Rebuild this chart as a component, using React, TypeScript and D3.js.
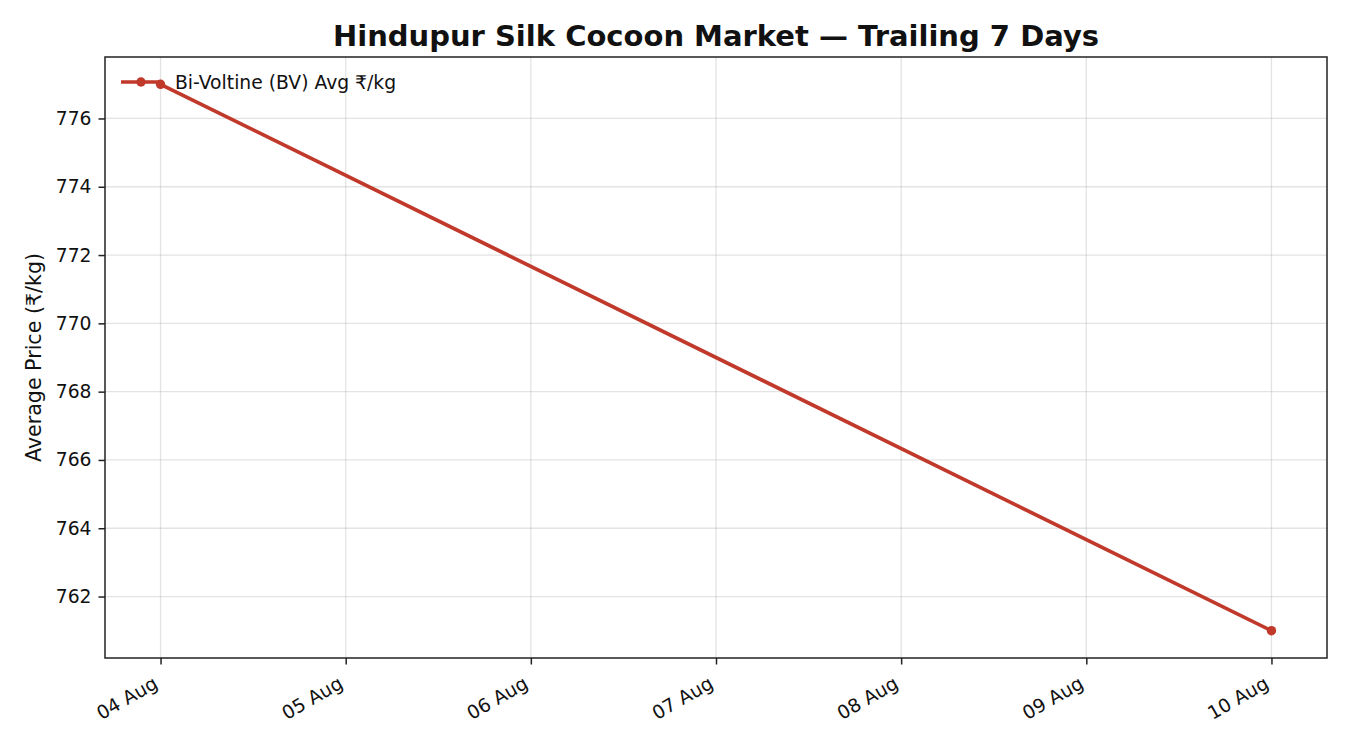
import { useEffect, useRef } from 'react';
import * as d3 from 'd3';

const DATES = ['2024-08-04', '2024-08-10'];
const PRICES = [777, 761];
const Y_TICKS = [762, 764, 766, 768, 770, 772, 774, 776];
const SERIES_NAME = 'Bi-Voltine (BV) Avg ₹/kg';
const TITLE = 'Hindupur Silk Cocoon Market — Trailing 7 Days';
const Y_LABEL = 'Average Price (₹/kg)';

const W = 1350, H = 750;
const M = { left: 105, right: 23, top: 57, bottom: 92 };
const RED = '#c0392b';
const FONT = 'DejaVu Sans, sans-serif';
const TICK_FS = 18.75;

export default function App() {
  const ref = useRef<SVGSVGElement | null>(null);

  useEffect(() => {
    document.body.style.margin = '0';
    const svg = d3.select(ref.current!);
    svg.selectAll('*').remove();
    const parse = d3.utcParse('%Y-%m-%d');
    const data = DATES.map((d, i) => ({ date: parse(d)!, value: PRICES[i] }));

    const x0 = data[0].date.getTime(), x1 = data[data.length - 1].date.getTime();
    const xPad = (x1 - x0) * 0.05;
    const x = d3.scaleUtc().domain([x0 - xPad, x1 + xPad]).range([M.left, W - M.right]);
    const [ymin, ymax] = d3.extent(PRICES) as [number, number];
    const yPad = (ymax - ymin) * 0.05;
    const y = d3.scaleLinear().domain([ymin - yPad, ymax + yPad]).range([H - M.bottom, M.top]);

    svg.append('rect').attr('width', W).attr('height', H).attr('fill', 'white');

    const xTicks = d3.utcDay.range(new Date(x0), new Date(x1 + 1));
    const grid = svg.append('g').attr('stroke', '#b0b0b0').attr('stroke-opacity', 0.35).attr('stroke-width', 1.3);
    grid.selectAll('.gx').data(xTicks).enter().append('line')
      .attr('x1', (d) => x(d)).attr('x2', (d) => x(d)).attr('y1', M.top).attr('y2', H - M.bottom);
    grid.selectAll('.gy').data(Y_TICKS).enter().append('line')
      .attr('x1', M.left).attr('x2', W - M.right).attr('y1', (d) => y(d)).attr('y2', (d) => y(d));

    // axes
    const fmt = d3.utcFormat('%d %b');
    const xAxis = svg.append('g').attr('transform', `translate(0,${H - M.bottom})`)
      .call(d3.axisBottom(x).tickValues(xTicks).tickSize(6.5).tickSizeOuter(0).tickFormat((d) => fmt(d as Date)));
    xAxis.select('.domain').remove();
    xAxis.selectAll('line').attr('stroke', '#222').attr('stroke-width', 1.5);
    xAxis.selectAll('text').attr('font-family', FONT).attr('font-size', TICK_FS).attr('fill', '#111')
      .attr('text-anchor', 'end').attr('y', 0).attr('dy', 0)
      .attr('transform', 'translate(-2,29) rotate(-30)');

    const yAxis = svg.append('g').attr('transform', `translate(${M.left},0)`)
      .call(d3.axisLeft(y).tickValues(Y_TICKS).tickSize(6.5).tickPadding(7).tickSizeOuter(0));
    yAxis.select('.domain').remove();
    yAxis.selectAll('line').attr('stroke', '#222').attr('stroke-width', 1.5);
    yAxis.selectAll('text').attr('font-family', FONT).attr('font-size', TICK_FS).attr('fill', '#111');

    svg.append('rect').attr('x', M.left).attr('y', M.top)
      .attr('width', W - M.left - M.right).attr('height', H - M.top - M.bottom)
      .attr('fill', 'none').attr('stroke', '#222').attr('stroke-width', 1.5);

    // series
    const line = d3.line<{ date: Date; value: number }>().x((d) => x(d.date)).y((d) => y(d.value));
    svg.append('path').datum(data).attr('d', line).attr('fill', 'none')
      .attr('stroke', RED).attr('stroke-width', 3.7).attr('stroke-linejoin', 'round');
    svg.selectAll('.pt').data(data).enter().append('circle')
      .attr('cx', (d) => x(d.date)).attr('cy', (d) => y(d.value)).attr('r', 4.7).attr('fill', RED);

    // legend
    const lg = svg.append('g').attr('transform', `translate(121,82)`);
    lg.append('line').attr('x1', 0).attr('x2', 40).attr('stroke', RED).attr('stroke-width', 3.7);
    lg.append('circle').attr('cx', 20).attr('r', 4.7).attr('fill', RED);
    lg.append('text').attr('x', 54).attr('dy', '0.35em').attr('font-family', FONT).attr('font-size', TICK_FS)
      .attr('fill', '#111').text(SERIES_NAME);

    svg.append('text').attr('x', (M.left + W - M.right) / 2).attr('y', 46).attr('text-anchor', 'middle')
      .attr('font-family', FONT).attr('font-weight', 'bold').attr('font-size', 29).attr('fill', '#111').text(TITLE);

    svg.append('text').attr('transform', `translate(41,${(M.top + H - M.bottom) / 2}) rotate(-90)`)
      .attr('text-anchor', 'middle').attr('font-family', FONT).attr('font-size', 20.6).attr('fill', '#111').text(Y_LABEL);
  }, []);

  return <svg ref={ref} width={W} height={H} style={{ display: 'block' }} />;
}
